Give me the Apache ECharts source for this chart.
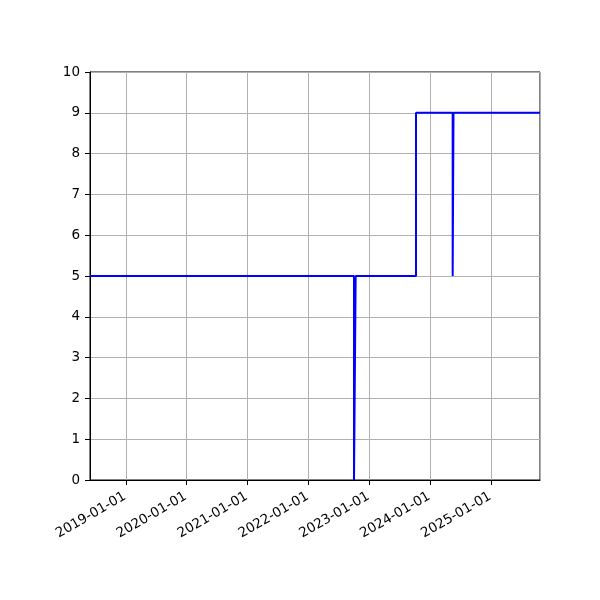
<!DOCTYPE html>
<html>
<head>
<meta charset="utf-8">
<script src="https://cdn.jsdelivr.net/npm/echarts@6/dist/echarts.min.js"></script>
<style>html,body{margin:0;padding:0;background:#fff}#c{width:600px;height:600px}</style>
</head>
<body>
<div id="c"></div>
<script>
// Step changes: value holds from each date until the next one
const changeDates = ['2018-05-31','2022-10-01','2022-10-11','2023-10-08','2024-05-15','2024-05-20','2025-10-21'];
const changeValues = [5, 0, 5, 9, 5, 9, 9];
const xMin = '2018-05-31';
const xMax = '2025-10-21';
const yTicks = [0,1,2,3,4,5,6,7,8,9,10];

const YEAR = 365 * 86400000;
const chart = echarts.init(document.getElementById('c'), null, {renderer: 'canvas'});
chart.setOption({
  animation: false,
  textStyle: {fontFamily: 'DejaVu Sans'},
  grid: {left: 90, top: 72, width: 450, height: 408, show: true, borderColor: '#000', borderWidth: 1, containLabel: false},
  xAxis: {
    type: 'time',
    min: xMin,
    max: xMax,
    minInterval: YEAR,
    maxInterval: YEAR,
    axisLine: {show: true, lineStyle: {color: '#000', width: 1}},
    axisTick: {show: true, length: 5, lineStyle: {color: '#000', width: 1}},
    axisLabel: {
      rotate: 30, color: '#000', fontSize: 13.5, margin: 15, padding: [0, 1, 0, 0],
      formatter: '{yyyy}-{MM}-{dd}', showMinLabel: false, showMaxLabel: false
    },
    splitLine: {show: true, lineStyle: {color: '#b0b0b0', width: 1}},
    minorTick: {show: false}
  },
  yAxis: {
    type: 'value',
    min: yTicks[0],
    max: yTicks[yTicks.length - 1],
    interval: 1,
    axisLine: {show: true, lineStyle: {color: '#000', width: 1}},
    axisTick: {show: true, length: 5, lineStyle: {color: '#000', width: 1}},
    axisLabel: {color: '#000', fontSize: 13.5, margin: 10},
    splitLine: {show: true, lineStyle: {color: '#b0b0b0', width: 1}}
  },
  series: [{
    type: 'line',
    step: 'end',
    symbol: 'none',
    lineStyle: {color: '#0000ff', width: 2},
    data: changeDates.map((d, i) => [d, changeValues[i]])
  }]
});
</script>
</body>
</html>
